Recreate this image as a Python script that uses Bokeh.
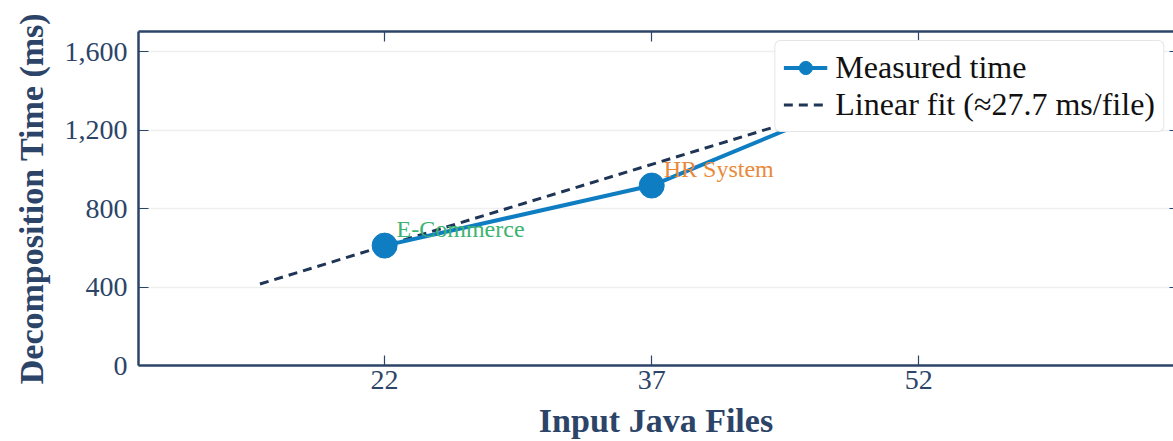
from bokeh.plotting import figure
from bokeh.models import (ColumnDataSource, Legend, LegendItem, LinearAxis,
                          Range1d, FixedTicker, NumeralTickFormatter)
from bokeh.core.properties import value
from bokeh.embed import file_html
from bokeh.resources import INLINE

# ---- data ----
files = [22, 37, 52]
times_ms = [611, 917, 1480]
project_names = ["E-Commerce", "HR System"]
label_files = [22, 37]
label_times = [611, 917]
label_colors = ["#3cb371", "#e8893a"]
fit_x = [15, 59]
fit_y = [415.5, 1634.3]
x_ticks = [22, 37, 52]
y_ticks = [0, 400, 800, 1200, 1600]

NAVY = "#2c4468"
FONT = "Liberation Serif"

p = figure(width=1173, height=441, output_backend="svg", toolbar_location=None,
           x_range=Range1d(8.18, 66.3), y_range=Range1d(0, 1702),
           x_axis_location=None, y_axis_location=None,
           min_border_left=138, min_border_top=31, min_border_bottom=76,
           min_border_right=0)
p.outline_line_color = None
p.background_fill_color = "white"
p.border_fill_color = "white"

def style_axis(ax, labels=True, line=True, tick_in=10):
    ax.major_tick_in = tick_in
    ax.major_tick_out = 0
    ax.minor_tick_in = 0
    ax.minor_tick_out = 0
    ax.major_tick_line_color = NAVY
    ax.major_tick_line_width = 1.2
    ax.axis_line_color = NAVY if line else None
    ax.axis_line_width = 2.5
    ax.major_label_text_font = FONT
    if labels:
        ax.major_label_text_color = NAVY
        ax.major_label_text_font_size = "28px"
    else:
        ax.major_label_text_color = None
        ax.major_label_text_font_size = "1px"
    ax.axis_label_text_font = FONT
    ax.axis_label_text_color = NAVY
    ax.axis_label_text_font_style = "bold"
    ax.axis_label_text_font_size = "34px"

xb = LinearAxis(axis_label="Input Java Files")
style_axis(xb)
xb.ticker = FixedTicker(ticks=x_ticks)
xb.major_label_standoff = 5
xb.axis_label_standoff = 10
p.add_layout(xb, "below")

yl = LinearAxis(axis_label="Decomposition Time (ms)")
style_axis(yl)
yl.ticker = FixedTicker(ticks=y_ticks)
yl.formatter = NumeralTickFormatter(format="0,0")
yl.major_label_standoff = 11
yl.axis_label_standoff = 12
p.add_layout(yl, "left")

xt = LinearAxis()
style_axis(xt, labels=False)
xt.ticker = FixedTicker(ticks=x_ticks)
xt.major_label_standoff = 0
xt.axis_label_standoff = 0
p.add_layout(xt, "above")

yr = LinearAxis()
style_axis(yr, labels=False, line=False, tick_in=4)
yr.ticker = FixedTicker(ticks=y_ticks)
yr.major_label_standoff = 0
yr.axis_label_standoff = 0
p.add_layout(yr, "right")

p.xgrid.visible = False
p.ygrid.ticker = FixedTicker(ticks=y_ticks)
p.ygrid.grid_line_color = "#efefef"
p.ygrid.grid_line_width = 1.5

src = ColumnDataSource(dict(x=files, y=times_ms))
fit_src = ColumnDataSource(dict(x=fit_x, y=fit_y))
lab_src = ColumnDataSource(dict(x=label_files, y=label_times, t=project_names, c=label_colors))

BLUE = "#0f7dc2"
fit_r = p.line("x", "y", source=fit_src, line_color="#1f3556", line_width=3,
               line_dash="9 6")
line_r = p.line("x", "y", source=src, line_color=BLUE, line_width=4)
pts_r = p.scatter("x", "y", source=src, size=25, fill_color=BLUE, line_color=BLUE)
p.text("x", "y", text="t", source=lab_src, text_color="c", x_offset=12, y_offset=-17,
       text_font=value(FONT), text_font_size="24px", text_baseline="middle",
       text_align="left")

legend = Legend(items=[LegendItem(label="Measured time", renderers=[line_r, pts_r]),
                       LegendItem(label="Linear fit (≈27.7 ms/file)", renderers=[fit_r])],
                location="top_right")
legend.margin = 9
legend.padding = 8
legend.spacing = 0
legend.glyph_width = 44
legend.glyph_height = 33
legend.label_height = 33
legend.label_standoff = 8
legend.label_text_font = FONT
legend.label_text_font_size = "32px"
legend.label_text_color = "#111111"
legend.border_line_color = "#cccccc"
legend.border_line_width = 1
legend.background_fill_color = "white"
legend.background_fill_alpha = 1.0
try:
    legend.border_radius = 6
except Exception:
    pass
p.add_layout(legend)

open("out.html", "w").write(file_html(p, INLINE))
